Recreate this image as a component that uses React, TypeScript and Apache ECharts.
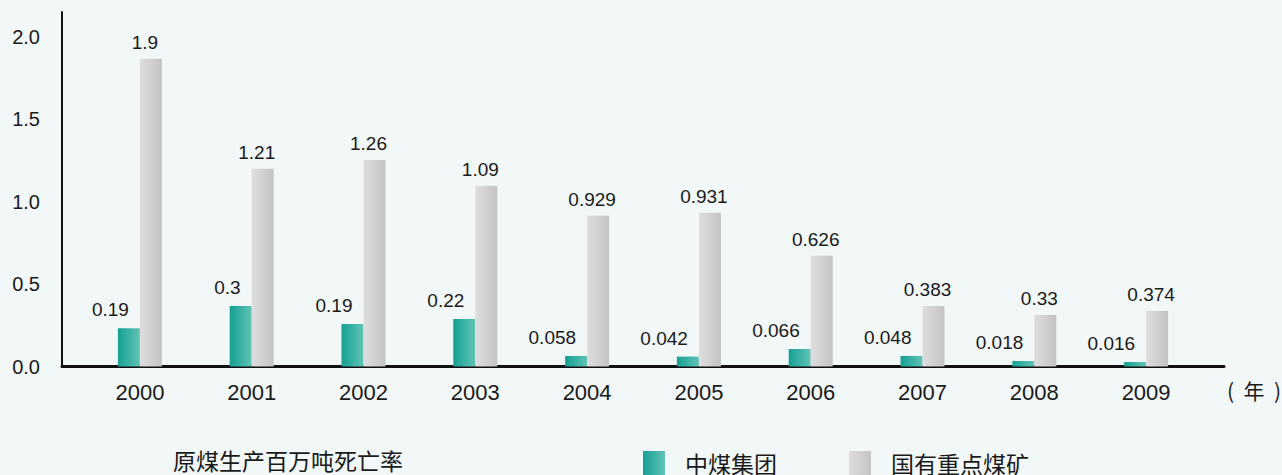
import React, { useEffect, useRef } from "react";
import * as echarts from "echarts";

const years = ["2000", "2001", "2002", "2003", "2004", "2005", "2006", "2007", "2008", "2009"];
const zmValues = [0.232, 0.367, 0.258, 0.288, 0.064, 0.06, 0.106, 0.064, 0.033, 0.027];
const zmLabels = ["0.19", "0.3", "0.19", "0.22", "0.058", "0.042", "0.066", "0.048", "0.018", "0.016"];
const gyValues = [1.866, 1.199, 1.253, 1.096, 0.914, 0.932, 0.671, 0.367, 0.313, 0.337];
const gyLabels = ["1.9", "1.21", "1.26", "1.09", "0.929", "0.931", "0.626", "0.383", "0.33", "0.374"];
const seriesNames = ["中煤集团", "国有重点煤矿"];
const chartTitle = "原煤生产百万吨死亡率";
const unitLabel = "(  年  )";

const FONT = "'Liberation Sans', Arial, sans-serif";
const CJK = "'Noto Sans CJK SC', sans-serif";
const TXT = "#1a1a1a";

export default function App() {
  const ref = useRef<HTMLDivElement>(null);
  useEffect(() => {
    if (!ref.current) return;
    const chart = echarts.init(ref.current, null, { renderer: "svg" });
    const teal = new echarts.graphic.LinearGradient(0, 0, 1, 0, [
      { offset: 0, color: "#14a093" },
      { offset: 1, color: "#62c3b7" },
    ]);
    const grey = new echarts.graphic.LinearGradient(0, 0, 1, 0, [
      { offset: 0, color: "#dedede" },
      { offset: 1, color: "#c3c3c3" },
    ]);
    const yMax = 2.15;
    chart.setOption({
      animation: false,
      backgroundColor: "#f2f7f7",
      grid: [
        { left: 84, top: 12, width: 1118, height: 354.5 },
        { left: 62, top: 12, width: 1162, height: 354.5 },
      ],
      xAxis: [
        {
          type: "category",
          gridIndex: 0,
          data: years,
          axisLine: { show: false },
          axisTick: { show: false },
          axisLabel: { fontSize: 22, color: TXT, fontFamily: FONT, margin: 15 },
        },
        {
          type: "value",
          gridIndex: 1,
          min: 0,
          max: 1,
          axisLine: { show: true, lineStyle: { color: "#111", width: 3 } },
          axisTick: { show: false },
          axisLabel: { show: false },
          splitLine: { show: false },
        },
      ],
      yAxis: [
        { type: "value", gridIndex: 0, min: 0, max: yMax, show: false, splitLine: { show: false } },
        {
          type: "value",
          gridIndex: 1,
          min: 0,
          max: yMax,
          interval: 0.5,
          axisLine: { show: true, lineStyle: { color: "#111", width: 2 } },
          axisTick: { show: false },
          splitLine: { show: false },
          axisLabel: {
            fontSize: 20,
            color: TXT,
            fontFamily: FONT,
            margin: 22,
            showMaxLabel: false,
            formatter: (v: number) =>
              Math.abs(v * 2 - Math.round(v * 2)) < 1e-6 ? v.toFixed(1) : "",
          },
        },
      ],
      legend: {
        left: 643,
        top: 451,
        padding: 0,
        itemWidth: 22,
        itemHeight: 24,
        itemGap: 72,
        icon: "rect",
        textStyle: {
          fontSize: 23,
          lineHeight: 14,
          color: TXT,
          fontFamily: CJK,
          padding: [0, 0, 0, 15],
        },
        data: seriesNames,
      },
      series: [
        {
          name: seriesNames[0],
          type: "bar",
          xAxisIndex: 0,
          yAxisIndex: 0,
          barWidth: 22,
          barGap: "0%",
          itemStyle: { color: teal },
          data: zmValues,
          label: {
            show: true,
            position: "top",
            distance: 9,
            align: "right",
            fontSize: 19,
            color: TXT,
            fontFamily: FONT,
            formatter: (p: any) => zmLabels[p.dataIndex],
          },
        },
        {
          name: seriesNames[1],
          type: "bar",
          xAxisIndex: 0,
          yAxisIndex: 0,
          barWidth: 22,
          barGap: "0%",
          itemStyle: { color: grey },
          data: gyValues,
          label: {
            show: true,
            position: "top",
            distance: 7,
            offset: [-6, 0],
            fontSize: 19,
            color: TXT,
            fontFamily: FONT,
            formatter: (p: any) => gyLabels[p.dataIndex],
          },
        },
      ],
      graphic: [
        {
          type: "text",
          left: 173,
          top: 448,
          style: { text: chartTitle, fontSize: 23, lineHeight: 23, fill: TXT, fontFamily: CJK },
        },
        {
          type: "text",
          left: 1227,
          top: 379,
          style: { text: unitLabel, fontSize: 21, fill: TXT, fontFamily: CJK },
        },
      ],
    });
    return () => chart.dispose();
  }, []);
  return (
    <div
      ref={ref}
      style={{ position: "absolute", left: 0, top: 0, width: 1282, height: 475 }}
    />
  );
}
